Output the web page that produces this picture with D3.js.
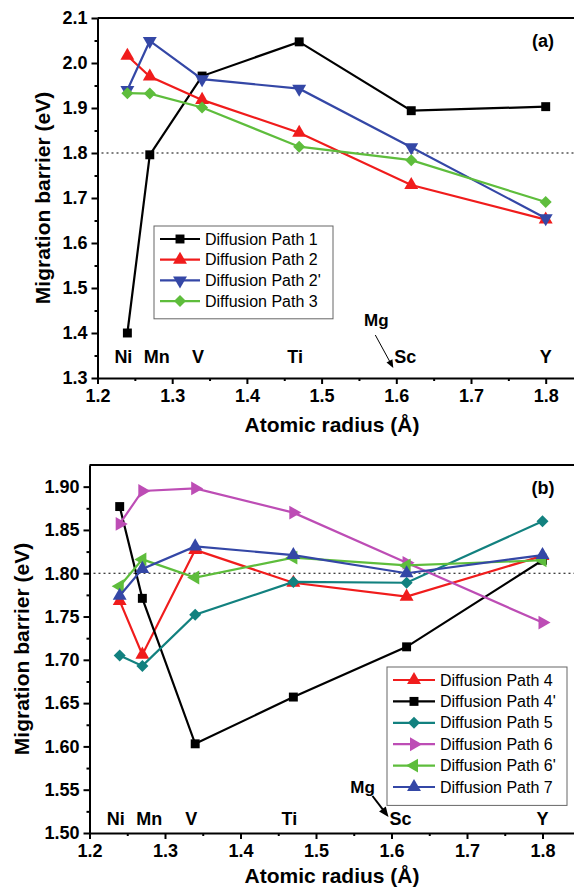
<!DOCTYPE html>
<html>
<head>
<meta charset="utf-8">
<script src="https://cdn.jsdelivr.net/npm/d3@7.9.0/dist/d3.min.js"></script>
<style>
  body { margin: 0; background: #fff; }
  svg { display: block; font-family: "Liberation Sans", Arial, sans-serif; }
</style>
</head>
<body>
<svg id="chart" width="574" height="888"></svg>
<script>
// ========== Data ==========
const elements = ['Ni', 'Mn', 'V', 'Ti', 'Sc', 'Y'];
const radius = [1.24, 1.27, 1.34, 1.47, 1.62, 1.80];
const mgRadius = 1.60;

// panel (a)
const path1 = [1.400, 1.796, 1.971, 2.047, 1.894, 1.903];
const path2 = [2.016, 1.970, 1.918, 1.845, 1.729, 1.652];
const path2p = [1.940, 2.049, 1.964, 1.943, 1.813, 1.655];
const path3 = [1.933, 1.932, 1.901, 1.814, 1.784, 1.691];

// panel (b)
const path4 = [1.768, 1.706, 1.827, 1.789, 1.773, 1.820];
const path4p = [1.877, 1.771, 1.603, 1.657, 1.715, 1.815];
const path5 = [1.705, 1.693, 1.752, 1.790, 1.789, 1.860];
const path6 = [1.857, 1.895, 1.898, 1.870, 1.812, 1.743];
const path6p = [1.785, 1.816, 1.795, 1.818, 1.809, 1.815];
const path7 = [1.774, 1.805, 1.831, 1.821, 1.800, 1.821];

const xTicks = [1.2, 1.3, 1.4, 1.5, 1.6, 1.7, 1.8];
const yTicksA = [1.3, 1.4, 1.5, 1.6, 1.7, 1.8, 1.9, 2.0, 2.1];
const yTicksB = [1.50, 1.55, 1.60, 1.65, 1.70, 1.75, 1.80, 1.85, 1.90];

const seriesA = [
  { name: 'Diffusion Path 1', values: path1, color: '#000000', shape: 'square' },
  { name: 'Diffusion Path 2', values: path2, color: '#f01c1c', shape: 'up' },
  { name: "Diffusion Path 2'", values: path2p, color: '#3447a6', shape: 'down' },
  { name: 'Diffusion Path 3', values: path3, color: '#5ebd3c', shape: 'diamond' },
];
const seriesB = [
  { name: 'Diffusion Path 4', values: path4, color: '#f01c1c', shape: 'up' },
  { name: "Diffusion Path 4'", values: path4p, color: '#000000', shape: 'square' },
  { name: 'Diffusion Path 5', values: path5, color: '#12817f', shape: 'diamond' },
  { name: 'Diffusion Path 6', values: path6, color: '#bd4db5', shape: 'right' },
  { name: "Diffusion Path 6'", values: path6p, color: '#5ebd3c', shape: 'left' },
  { name: 'Diffusion Path 7', values: path7, color: '#3447a6', shape: 'up' },
];

const svg = d3.select('#chart');

// label nudges so element names sit like the original
const labelDx = { Ni: -4, Mn: 7, V: -4, Ti: -4, Sc: -6, Y: 0 };

// ========== Markers ==========
function markerPath(shape) {
  if (shape === 'square') return d3.symbol(d3.symbolSquare, 80)();
  if (shape === 'diamond') return d3.symbol(d3.symbolSquare, 72)();
  return d3.symbol(d3.symbolTriangle, 84)();
}
function markerRotate(shape) {
  return { diamond: 45, down: 180, right: 90, left: -90 }[shape] || 0;
}

// ========== Panel ==========
function drawPanel(cfg) {
  const g = svg.append('g');
  const x = d3.scaleLinear().domain([1.2, 1.85]).range([cfg.left, cfg.left + 0.65 * cfg.xUnit]);
  const y = d3.scaleLinear().domain(cfg.yDomain).range([cfg.bottom, cfg.top]);
  const xMax = x.range()[1];

  // minor ticks
  const xMinor = d3.range(1.25, 1.85, 0.1);
  const yMinor = cfg.yTicks.slice(0, -1).map((d, i) => (d + cfg.yTicks[i + 1]) / 2);

  g.append('g')
    .attr('transform', `translate(0,${cfg.bottom})`)
    .call(d3.axisBottom(x).tickValues(xMinor).tickSize(3).tickFormat(''))
    .call((s) => s.select('.domain').remove());
  g.append('g')
    .attr('transform', `translate(${cfg.left},0)`)
    .call(d3.axisLeft(y).tickValues(yMinor).tickSize(3).tickFormat(''))
    .call((s) => s.select('.domain').remove());

  const xAxis = g.append('g')
    .attr('transform', `translate(0,${cfg.bottom})`)
    .call(d3.axisBottom(x).tickValues(xTicks).tickSize(6).tickSizeOuter(0).tickPadding(5).tickFormat(d3.format('.1f')));
  const yAxis = g.append('g')
    .attr('transform', `translate(${cfg.left},0)`)
    .call(d3.axisLeft(y).tickValues(cfg.yTicks).tickSize(6).tickSizeOuter(0).tickPadding(4).tickFormat(d3.format(cfg.yFormat)));

  [xAxis, yAxis].forEach((a) => {
    a.selectAll('text').attr('font-size', 18).attr('font-weight', 'bold').attr('fill', '#000');
    a.select('.domain').attr('stroke-width', 2);
  });
  g.selectAll('.tick line').attr('stroke-width', 2);

  // top frame
  g.append('line')
    .attr('x1', cfg.left).attr('x2', xMax)
    .attr('y1', cfg.top).attr('y2', cfg.top)
    .attr('stroke', '#000').attr('stroke-width', 2);

  // reference line at 1.8 eV
  g.append('line')
    .attr('x1', cfg.left + 4).attr('x2', xMax)
    .attr('y1', y(1.8)).attr('y2', y(1.8))
    .attr('stroke', '#000').attr('stroke-width', 1.2)
    .attr('stroke-dasharray', '2,3');

  // axis titles
  g.append('text')
    .attr('transform', `translate(${cfg.yTitleX},${(cfg.top + cfg.bottom) / 2}) rotate(-90)`)
    .attr('text-anchor', 'middle').attr('dominant-baseline', 'middle')
    .attr('font-size', 21).attr('font-weight', 'bold')
    .text('Migration barrier (eV)');
  g.append('text')
    .attr('x', 332).attr('y', cfg.bottom + cfg.xTitleDy)
    .attr('text-anchor', 'middle')
    .attr('font-size', 21).attr('font-weight', 'bold')
    .text('Atomic radius (Å)');

  // panel tag
  g.append('text')
    .attr('x', 543).attr('y', cfg.top + 29)
    .attr('text-anchor', 'middle')
    .attr('font-size', 18).attr('font-weight', 'bold')
    .text(cfg.tag);

  // element names
  elements.forEach((el, i) => {
    g.append('text')
      .attr('x', x(radius[i]) + labelDx[el])
      .attr('y', cfg.bottom - cfg.elemLift)
      .attr('text-anchor', 'middle')
      .attr('font-size', 18).attr('font-weight', 'bold')
      .text(el);
  });

  // Mg arrow
  const m = cfg.mg;
  const ax1 = x(mgRadius) + m.x1, ay1 = cfg.bottom - m.y1;
  const ax2 = x(mgRadius) - 3, ay2 = cfg.bottom - m.y2;
  g.append('text')
    .attr('x', x(mgRadius) + m.tx).attr('y', cfg.bottom - m.ty)
    .attr('text-anchor', 'middle')
    .attr('font-size', 17).attr('font-weight', 'bold')
    .text('Mg');
  const ang = Math.atan2(ay2 - ay1, ax2 - ax1);
  g.append('line')
    .attr('x1', ax1).attr('y1', ay1)
    .attr('x2', ax2 - 6 * Math.cos(ang)).attr('y2', ay2 - 6 * Math.sin(ang))
    .attr('stroke', '#000').attr('stroke-width', m.w);
  g.append('path')
    .attr('d', `M0,0 L-${m.head},-${m.head * 0.42} L-${m.head},${m.head * 0.42} Z`)
    .attr('transform', `translate(${ax2},${ay2}) rotate(${ang * 180 / Math.PI})`)
    .attr('fill', '#000');

  // series
  const line = d3.line().x((d, i) => x(radius[i])).y((d) => y(d));
  cfg.series.forEach((s) => {
    g.append('path')
      .attr('d', line(s.values))
      .attr('fill', 'none')
      .attr('stroke', s.color)
      .attr('stroke-width', 2.2);
    s.values.forEach((v, i) => {
      g.append('path')
        .attr('d', markerPath(s.shape))
        .attr('transform', `translate(${x(radius[i])},${y(v)}) rotate(${markerRotate(s.shape)})`)
        .attr('fill', s.color);
    });
  });

  // legend
  const lg = cfg.legend;
  const n = cfg.series.length;
  g.append('rect')
    .attr('x', lg.x).attr('y', lg.y)
    .attr('width', lg.w).attr('height', lg.rowH * n + 10)
    .attr('fill', '#fff').attr('stroke', '#666').attr('stroke-width', 1);
  cfg.series.forEach((s, i) => {
    const cy = lg.y + 13 + i * lg.rowH;
    g.append('line')
      .attr('x1', lg.x + 6).attr('x2', lg.x + 6 + lg.lineW)
      .attr('y1', cy).attr('y2', cy)
      .attr('stroke', s.color).attr('stroke-width', 2.2);
    g.append('path')
      .attr('d', markerPath(s.shape))
      .attr('transform', `translate(${lg.x + 6 + lg.lineW / 2},${cy}) rotate(${markerRotate(s.shape)})`)
      .attr('fill', s.color);
    g.append('text')
      .attr('x', lg.x + lg.lineW + 11).attr('y', cy)
      .attr('dominant-baseline', 'central')
      .attr('font-size', 16)
      .text(s.name);
  });
}

drawPanel({
  tag: '(a)', series: seriesA,
  left: 97.5, xUnit: 747, top: 18, bottom: 378,
  yDomain: [1.3, 2.1], yTicks: yTicksA, yFormat: '.1f',
  yTitleX: 44, xTitleDy: 54, elemLift: 15,
  mg: { tx: -20, ty: 52, x1: -21, y1: 43, y2: 10, w: 1, head: 8 },
  legend: { x: 154, y: 226, w: 179, rowH: 20.7, lineW: 40 },
});

drawPanel({
  tag: '(b)', series: seriesB,
  left: 89.5, xUnit: 755, top: 465, bottom: 833,
  yDomain: [1.5, 1.925], yTicks: yTicksB, yFormat: '.2f',
  yTitleX: 23, xTitleDy: 50, elemLift: 8,
  mg: { tx: -29, ty: 40, x1: -19, y1: 37, y2: 16, w: 2, head: 10 },
  legend: { x: 387, y: 667, w: 180, rowH: 21.4, lineW: 42 },
});
</script>
</body>
</html>
